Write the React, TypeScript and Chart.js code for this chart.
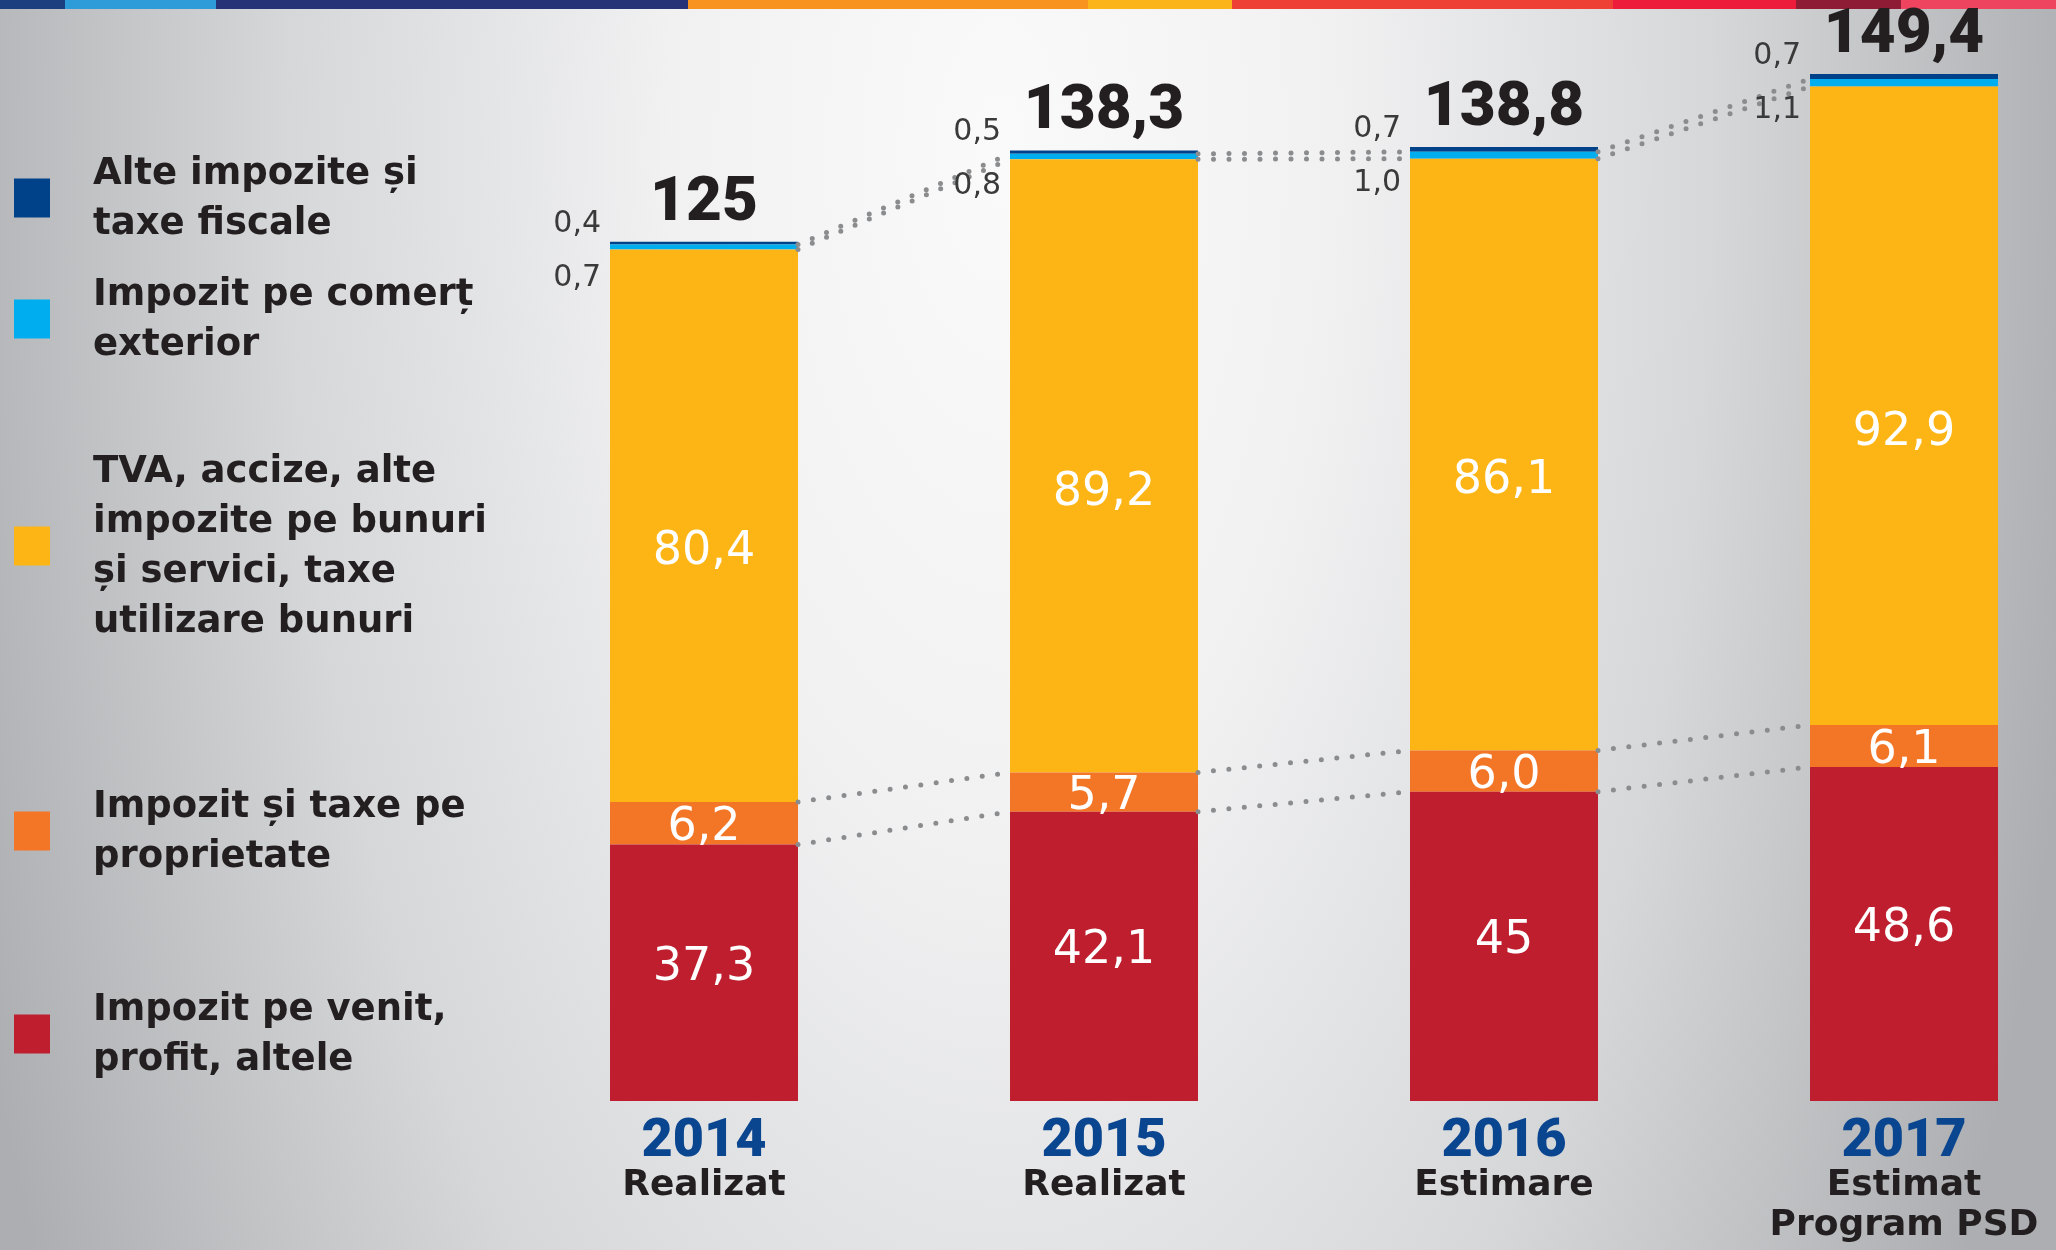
import React, { useEffect, useRef } from "react";
import { Chart, registerables } from "chart.js";

Chart.register(...registerables);

// ---------- data ----------
const categories = ["2014", "2015", "2016", "2017"];
const categoryNotes = [["Realizat"], ["Realizat"], ["Estimare"], ["Estimat", "Program PSD"]];

// values as printed (Romanian decimal comma)
const impozitVenit = ["37,3", "42,1", "45", "48,6"];
const impozitProprietate = ["6,2", "5,7", "6,0", "6,1"];
const tvaAccize = ["80,4", "89,2", "86,1", "92,9"];
const comertExterior = ["0,7", "0,8", "1,0", "1,1"];
const alteImpozite = ["0,4", "0,5", "0,7", "0,7"];
const totals = ["125", "138,3", "138,8", "149,4"];

const seriesNames = [
  ["Impozit pe venit,", "profit, altele"],
  ["Impozit și taxe pe", "proprietate"],
  ["TVA, accize, alte", "impozite pe bunuri", "și servici, taxe", "utilizare bunuri"],
  ["Impozit pe comerț", "exterior"],
  ["Alte impozite și", "taxe fiscale"],
];

// ---------- styles / layout ----------
const seriesColors = ["#be1e2d", "#f37526", "#fdb515", "#00aeef", "#00428a"];
const TEXT = "#231f20";
const YEAR_BLUE = "#0a4690";
const DOT_GREY = "#8b8c8e";
const LEGEND_FIRST_BASELINES = [1020, 817, 482, 305, 184]; // per series index (bottom -> top)
const LEGEND_LINE = 50;
const YELLOW_LABEL_SHIFT = 22;
const RED_LABEL_SHIFT = -10;
const CANVAS_W = 2120;
const CANVAS_H = 1250;

const num = (s: string) => parseFloat(s.replace(",", "."));
const allSeries = [impozitVenit, impozitProprietate, tvaAccize, comertExterior, alteImpozite];

const labelsPlugin = {
  id: "customLabels",
  afterDatasetsDraw(chart: any) {
    const ctx: CanvasRenderingContext2D = chart.ctx;
    const metas = allSeries.map((_, i) => chart.getDatasetMeta(i));
    const n = categories.length;

    // dotted connectors
    ctx.save();
    ctx.strokeStyle = DOT_GREY;
    ctx.lineWidth = 5;
    ctx.lineCap = "round";
    ctx.setLineDash([0, 15.5]);
    for (let k = 0; k < 4; k++) {
      for (let i = 0; i < n - 1; i++) {
        const a = metas[k].data[i];
        const b = metas[k].data[i + 1];
        ctx.beginPath();
        ctx.moveTo(a.x + a.width / 2, a.y);
        ctx.lineTo(b.x - b.width / 2, b.y);
        ctx.stroke();
      }
    }
    ctx.restore();

    // inside labels
    ctx.save();
    ctx.fillStyle = "#ffffff";
    ctx.textAlign = "center";
    ctx.textBaseline = "alphabetic";
    ctx.font = "46px 'DejaVu Sans'";
    const cap = 46 * 0.729;
    for (let k = 0; k < 3; k++) {
      const shift = k === 2 ? YELLOW_LABEL_SHIFT : k === 0 ? RED_LABEL_SHIFT : 0;
      metas[k].data.forEach((el: any, i: number) => {
        const cy = (el.y + el.base) / 2 + shift;
        ctx.fillText(allSeries[k][i], el.x, cy + cap / 2);
      });
    }
    ctx.restore();

    // small labels on the left of thin segments
    ctx.save();
    ctx.fillStyle = "#3a3a3a";
    ctx.textAlign = "right";
    ctx.textBaseline = "alphabetic";
    ctx.font = "30px 'DejaVu Sans'";
    metas[4].data.forEach((el: any, i: number) => {
      const left = el.x - el.width / 2 - 9;
      ctx.fillText(alteImpozite[i], left, el.y - 10);
      ctx.fillText(comertExterior[i], left, el.y + 44);
    });
    ctx.restore();

    // totals
    ctx.save();
    ctx.fillStyle = TEXT;
    ctx.textAlign = "center";
    ctx.textBaseline = "alphabetic";
    ctx.font = "900 62px Roboto";
    metas[4].data.forEach((el: any, i: number) => {
      ctx.fillText(totals[i], el.x, el.y - 22);
    });
    ctx.restore();

    // category labels
    const bottom = chart.chartArea.bottom;
    ctx.save();
    ctx.textAlign = "center";
    ctx.textBaseline = "alphabetic";
    metas[0].data.forEach((el: any, i: number) => {
      ctx.fillStyle = YEAR_BLUE;
      ctx.font = "900 54px Roboto";
      ctx.fillText(categories[i], el.x, bottom + 55);
      ctx.fillStyle = TEXT;
      ctx.font = "bold 36px 'DejaVu Sans'";
      categoryNotes[i].forEach((line, j) => {
        ctx.fillText(line, el.x, bottom + 94 + j * 40);
      });
    });
    ctx.restore();

    // legend
    ctx.save();
    ctx.textAlign = "left";
    ctx.textBaseline = "alphabetic";
    ctx.font = "bold 37px 'DejaVu Sans'";
    const lcap = 27;
    seriesNames.forEach((lines, k) => {
      const first = LEGEND_FIRST_BASELINES[k];
      const last = first + (lines.length - 1) * LEGEND_LINE;
      const mid = (first - lcap + last) / 2 + 2;
      ctx.fillStyle = seriesColors[k];
      ctx.fillRect(14, mid - 19, 36, 39);
      ctx.fillStyle = TEXT;
      lines.forEach((line, j) => ctx.fillText(line, 93, first + j * LEGEND_LINE));
    });
    ctx.restore();
  },
};

export default function App() {
  const ref = useRef<HTMLCanvasElement | null>(null);

  useEffect(() => {
    if (!ref.current) return;
    const chart = new Chart(ref.current, {
      type: "bar",
      data: {
        labels: categories,
        datasets: allSeries.map((s, k) => ({
          label: seriesNames[k].join(" "),
          data: s.map(num),
          backgroundColor: seriesColors[k],
          borderWidth: 0,
          categoryPercentage: 1,
          barPercentage: 0.47,
          stack: "total",
        })),
      },
      options: {
        responsive: false,
        animation: false,
        devicePixelRatio: 1,
        layout: { padding: { left: 504, right: 16, top: 70, bottom: 149 } },
        scales: {
          x: { display: false, stacked: true },
          y: { display: false, stacked: true, min: 0, max: 150 },
        },
        plugins: { legend: { display: false }, tooltip: { enabled: false } },
      },
      plugins: [labelsPlugin],
    } as any);
    return () => chart.destroy();
  }, []);

  const strip =
    "linear-gradient(to right, #1c3f80 0px, #1c3f80 65px, #2e9cd8 65px, #2e9cd8 216px, #263377 216px, #263377 688px, #f7931e 688px, #f7931e 1088px, #fbb41a 1088px, #fbb41a 1232px, #ef4035 1232px, #ef4035 1613px, #ed1c3a 1613px, #ed1c3a 1796px, #8e1c34 1796px, #8e1c34 1901px, #ee4460 1901px, #ee4460 2056px)";

  return (
    <div
      style={{
        position: "fixed",
        left: 0,
        top: 0,
        width: 2056,
        height: 1250,
        overflow: "hidden",
        background:
          "radial-gradient(ellipse 1100px 2300px at 1000px 150px, #fafafa 0%, #f1f1f2 30%, #d6d7d9 65%, #acaeb1 100%)",
      }}
    >
      <div style={{ position: "absolute", left: 0, top: 0, width: 2056, height: 9, background: strip }} />
      <canvas
        ref={ref}
        width={CANVAS_W}
        height={CANVAS_H}
        style={{ position: "absolute", left: 0, top: 0, display: "block", width: CANVAS_W, height: CANVAS_H }}
      />
    </div>
  );
}
